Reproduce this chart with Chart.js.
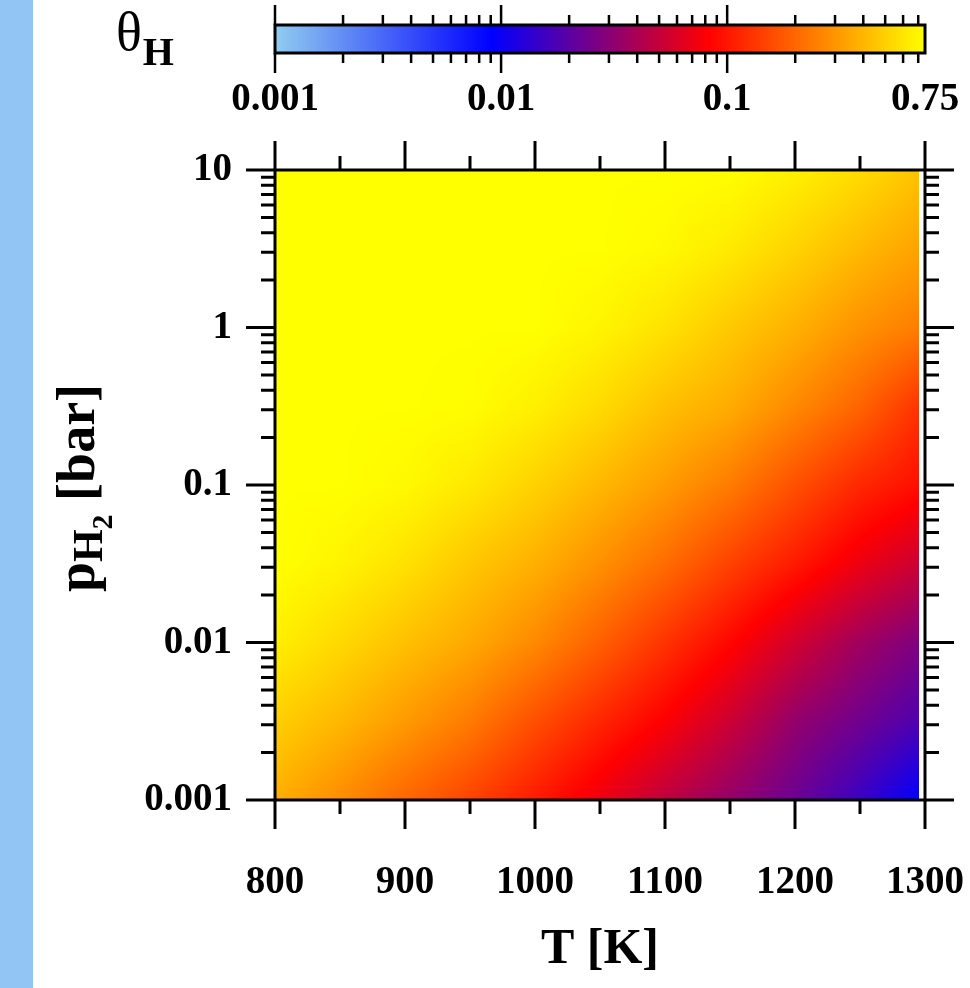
<!DOCTYPE html>
<html>
<head>
<meta charset="utf-8">
<script src="https://cdn.jsdelivr.net/npm/chart.js@4.4.1/dist/chart.umd.min.js"></script>
<style>
  html, body { margin: 0; padding: 0; background: #fff; }
  body { width: 970px; height: 988px; position: relative; overflow: hidden; }
  #strip { position: absolute; left: 0; top: 0; width: 33px; height: 988px; background: #93c5f4; }
  canvas { position: absolute; left: 0; top: 0; }
</style>
</head>
<body>
<div id="strip"></div>
<canvas id="main" width="970" height="988"></canvas>
<canvas id="bar" width="970" height="130"></canvas>
<script>
// grid of the map: temperature columns [K] and pressure rows [bar]
var temperatures = [800, 850, 900, 950, 1000, 1050, 1100, 1150, 1200, 1250, 1295];
var pressures = [0.001, 0.00316, 0.01, 0.0316, 0.1, 0.316, 1, 3.16, 10];

// theta_H, one row per pressure (0.75 = top of the scale)
var theta_p0_001  = [0.374, 0.277, 0.199, 0.147, 0.103, 0.0705, 0.0474, 0.0327, 0.0230, 0.0151, 0.00912];
var theta_p0_0032 = [0.494, 0.404, 0.313, 0.238, 0.163, 0.114, 0.0804, 0.0530, 0.0327, 0.0240, 0.0180];
var theta_p0_01   = [0.653, 0.538, 0.436, 0.356, 0.270, 0.189, 0.128, 0.0865, 0.0553, 0.0365, 0.0274];
var theta_p0_032  = [0.75, 0.679, 0.578, 0.462, 0.378, 0.287, 0.210, 0.145, 0.103, 0.0708, 0.0530];
var theta_p0_1    = [0.75, 0.75, 0.708, 0.617, 0.506, 0.404, 0.317, 0.239, 0.165, 0.116, 0.0933];
var theta_p0_32   = [0.75, 0.75, 0.75, 0.736, 0.656, 0.547, 0.433, 0.365, 0.270, 0.196, 0.129];
var theta_p1      = [0.75, 0.75, 0.75, 0.75, 0.75, 0.682, 0.583, 0.469, 0.382, 0.292, 0.244];
var theta_p3_2    = [0.75, 0.75, 0.75, 0.75, 0.75, 0.75, 0.711, 0.624, 0.512, 0.410, 0.338];
var theta_p10     = [0.75, 0.75, 0.75, 0.75, 0.75, 0.75, 0.75, 0.740, 0.661, 0.555, 0.447];
var thetaRows = [theta_p0_001, theta_p0_0032, theta_p0_01, theta_p0_032, theta_p0_1,
                 theta_p0_32, theta_p1, theta_p3_2, theta_p10];

// axis ticks
var xTicks = [800, 900, 1000, 1100, 1200, 1300];
var yTicks = [0.001, 0.01, 0.1, 1, 10];
var barTicks = [0.001, 0.01, 0.1, 0.75];
var thetaMin = 0.001, thetaMax = 0.75;

var SERIF = '"Liberation Serif", "DejaVu Serif", serif';
Chart.defaults.font.family = SERIF;
Chart.defaults.color = '#000';

// colour scale, equal steps in log(theta)
var cmap = [[144, 205, 240], [0, 0, 255], [255, 0, 0], [255, 255, 0]];
function thetaColor(v) {
    var lo = Math.log10(thetaMin), hi = Math.log10(thetaMax);
    var t = (Math.log10(Math.min(Math.max(v, thetaMin), thetaMax)) - lo) / (hi - lo);
    var s = t * (cmap.length - 1);
    var i = Math.min(cmap.length - 2, Math.floor(s));
    var f = s - i;
    var a = cmap[i], b = cmap[i + 1];
    return [a[0] + (b[0] - a[0]) * f, a[1] + (b[1] - a[1]) * f, a[2] + (b[2] - a[2]) * f];
}

function clamp01(v) { return Math.max(0, Math.min(1, v)); }

function locate(arr, v) {
    var k = 0;
    while (k < arr.length - 2 && v > arr[k + 1]) k++;
    return [k, clamp01((v - arr[k]) / (arr[k + 1] - arr[k]))];
}

// keep the plot box where it is, labels may hang over the edges
function noLabelPadding(s) {
    s.paddingLeft = 0; s.paddingRight = 0; s.paddingTop = 0; s.paddingBottom = 0;
}

var gridPoints = [];
pressures.forEach(function (p, j) {
    temperatures.forEach(function (T, i) {
        gridPoints.push({x: T, y: p, theta: thetaRows[j][i]});
    });
});

// shaded map, painted through the chart scales
var heatmapPlugin = {
    id: 'heatmap',
    beforeDatasetsDraw: function (chart) {
        var ctx = chart.ctx, x = chart.scales.x, y = chart.scales.y;
        var x0 = Math.round(x.getPixelForValue(temperatures[0]));
        var x1 = Math.round(x.getPixelForValue(temperatures[temperatures.length - 1]));
        var y0 = Math.round(y.getPixelForValue(pressures[pressures.length - 1]));
        var y1 = Math.round(y.getPixelForValue(pressures[0]));
        var w = x1 - x0, h = y1 - y0;
        var logP = pressures.map(function (p) { return Math.log10(p); });
        var logTheta = thetaRows.map(function (r) { return r.map(function (v) { return Math.log10(v); }); });
        var cols = [], rows = [];
        for (var i = 0; i < w; i++) cols.push(locate(temperatures, x.getValueForPixel(x0 + i + 0.5)));
        for (var j = 0; j < h; j++) rows.push(locate(logP, Math.log10(y.getValueForPixel(y0 + j + 0.5))));
        var img = ctx.createImageData(w, h);
        for (j = 0; j < h; j++) {
            var r = rows[j][0], fr = rows[j][1];
            for (i = 0; i < w; i++) {
                var c = cols[i][0], fc = cols[i][1];
                var a = logTheta[r][c] * (1 - fc) + logTheta[r][c + 1] * fc;
                var b = logTheta[r + 1][c] * (1 - fc) + logTheta[r + 1][c + 1] * fc;
                var col = thetaColor(Math.pow(10, a * (1 - fr) + b * fr));
                var o = (j * w + i) * 4;
                img.data[o] = col[0]; img.data[o + 1] = col[1]; img.data[o + 2] = col[2]; img.data[o + 3] = 255;
            }
        }
        ctx.putImageData(img, x0, y0);
    }
};

// box, tick marks on all four sides and the y title
var framePlugin = {
    id: 'frame',
    afterDatasetsDraw: function (chart) {
        var ctx = chart.ctx, a = chart.chartArea, x = chart.scales.x, y = chart.scales.y;
        var major = 29, minor = 14;
        ctx.save();
        ctx.strokeStyle = '#000';
        ctx.lineWidth = 3;
        ctx.strokeRect(a.left, a.top, a.right - a.left, a.bottom - a.top);
        ctx.beginPath();
        xTicks.forEach(function (T, i) {
            var px = x.getPixelForValue(T);
            ctx.moveTo(px, a.bottom); ctx.lineTo(px, a.bottom + major);
            ctx.moveTo(px, a.top); ctx.lineTo(px, a.top - major);
            if (i < xTicks.length - 1) {
                var pm = x.getPixelForValue((T + xTicks[i + 1]) / 2);
                ctx.moveTo(pm, a.bottom); ctx.lineTo(pm, a.bottom + minor);
                ctx.moveTo(pm, a.top); ctx.lineTo(pm, a.top - minor);
            }
        });
        yTicks.forEach(function (p, i) {
            var py = y.getPixelForValue(p);
            ctx.moveTo(a.left, py); ctx.lineTo(a.left - major, py);
            ctx.moveTo(a.right, py); ctx.lineTo(a.right + major, py);
            if (i < yTicks.length - 1) {
                for (var m = 2; m <= 9; m++) {
                    var pm = y.getPixelForValue(p * m);
                    ctx.moveTo(a.left, pm); ctx.lineTo(a.left - minor, pm);
                    ctx.moveTo(a.right, pm); ctx.lineTo(a.right + minor, pm);
                }
            }
        });
        ctx.stroke();

        // p_H2 [bar], rotated
        var parts = [
            {t: 'p', size: 54, dy: 0},
            {t: 'H', size: 42, dy: 8},
            {t: '2', size: 30, dy: 18},
            {t: ' [bar]', size: 54, dy: 0}
        ];
        var total = 0;
        parts.forEach(function (q) { ctx.font = 'bold ' + q.size + 'px ' + SERIF; q.w = ctx.measureText(q.t).width; total += q.w; });
        ctx.translate(94, 488 + total / 2);
        ctx.rotate(-Math.PI / 2);
        ctx.fillStyle = '#000';
        ctx.textBaseline = 'alphabetic';
        var cx = 0;
        parts.forEach(function (q) {
            ctx.font = 'bold ' + q.size + 'px ' + SERIF;
            ctx.fillText(q.t, cx, q.dy);
            cx += q.w;
        });
        ctx.restore();
    }
};

new Chart(document.getElementById('main'), {
    type: 'scatter',
    data: {
        datasets: [{ data: gridPoints, pointRadius: 0, pointHoverRadius: 0 }]
    },
    options: {
        responsive: false,
        animation: false,
        events: [],
        layout: { padding: { left: 0, right: 45, top: 170, bottom: 0 } },
        plugins: { legend: { display: false }, tooltip: { enabled: false } },
        scales: {
            x: {
                type: 'linear', min: 800, max: 1300,
                afterBuildTicks: function (s) { s.ticks = xTicks.map(function (v) { return {value: v}; }); },
                afterFit: function (s) { s.height = 188; noLabelPadding(s); },
                grid: { display: false, drawTicks: false },
                border: { display: false },
                ticks: { font: { size: 39, weight: 'bold' }, padding: 60, maxRotation: 0, autoSkip: false,
                         callback: function (v) { return String(v); } },
                title: { display: true, text: 'T [K]', font: { size: 50, weight: 'bold' }, padding: { top: 0, bottom: 8 } }
            },
            y: {
                type: 'logarithmic', min: 0.001, max: 10,
                afterBuildTicks: function (s) { s.ticks = yTicks.map(function (v) { return {value: v}; }); },
                afterFit: function (s) { s.width = 275; noLabelPadding(s); },
                grid: { display: false, drawTicks: false },
                border: { display: false },
                ticks: { font: { size: 39, weight: 'bold' }, padding: 43, autoSkip: false,
                         callback: function (v) { return String(v); } }
            }
        }
    },
    plugins: [heatmapPlugin, framePlugin]
});

// colour bar, its ticks and the theta_H label
var colorbarPlugin = {
    id: 'colorbar',
    afterDraw: function (chart) {
        var ctx = chart.ctx, a = chart.chartArea, x = chart.scales.x;
        ctx.save();
        for (var px = Math.floor(a.left); px < Math.ceil(a.right); px++) {
            var c = thetaColor(x.getValueForPixel(px + 0.5));
            ctx.fillStyle = 'rgb(' + Math.round(c[0]) + ',' + Math.round(c[1]) + ',' + Math.round(c[2]) + ')';
            ctx.fillRect(px, a.top, 1, a.bottom - a.top);
        }
        ctx.strokeStyle = '#000';
        ctx.lineWidth = 3;
        ctx.strokeRect(a.left, a.top, a.right - a.left, a.bottom - a.top);
        ctx.lineWidth = 2.5;
        ctx.beginPath();
        for (var d = thetaMin; d < thetaMax; d *= 10) {
            for (var m = 1; m <= 9; m++) {
                var v = d * m;
                if (v >= thetaMax) break;
                var len = m === 1 ? 20 : 10;
                var p = x.getPixelForValue(v);
                ctx.moveTo(p, a.top); ctx.lineTo(p, a.top - len);
                ctx.moveTo(p, a.bottom); ctx.lineTo(p, a.bottom + len);
            }
        }
        ctx.stroke();
        ctx.fillStyle = '#000';
        ctx.textBaseline = 'alphabetic';
        ctx.font = '54px ' + SERIF;
        ctx.fillText('\u03B8', 116, 50);
        var tw = ctx.measureText('\u03B8').width;
        ctx.font = 'bold 40px ' + SERIF;
        ctx.fillText('H', 116 + tw + 1, 65);
        ctx.restore();
    }
};

new Chart(document.getElementById('bar'), {
    type: 'scatter',
    data: { datasets: [{ data: [] }] },
    options: {
        responsive: false,
        animation: false,
        events: [],
        layout: { padding: { left: 275, right: 45, top: 25, bottom: 0 } },
        plugins: { legend: { display: false }, tooltip: { enabled: false } },
        scales: {
            x: {
                type: 'logarithmic', min: thetaMin, max: thetaMax,
                afterBuildTicks: function (s) { s.ticks = barTicks.map(function (v) { return {value: v}; }); },
                afterFit: function (s) { s.height = 77; noLabelPadding(s); },
                grid: { display: false, drawTicks: false },
                border: { display: false },
                ticks: { font: { size: 39, weight: 'bold' }, padding: 24, maxRotation: 0, autoSkip: false,
                         callback: function (v) { return String(v); } }
            },
            y: { display: false, min: 0, max: 1 }
        }
    },
    plugins: [colorbarPlugin]
});
</script>
</body>
</html>
